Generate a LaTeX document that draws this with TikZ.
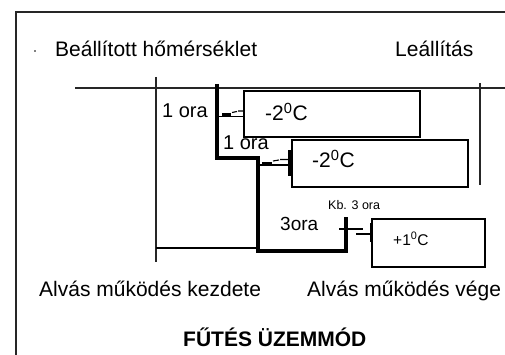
\documentclass[tikz,border=0pt]{standalone}
\usepackage{fontspec}
\setmainfont{Liberation Sans}
\usetikzlibrary{calc}
\begin{document}
\begin{tikzpicture}[x=1pt, y=-1pt, font=\fontsize{21}{25}\selectfont,
        lbl/.style={inner sep=0pt, anchor=base west},
        tbox/.style={draw, line width=1.4pt, fill=white, inner sep=0pt},
        axisline/.style={line width=1.5pt, black!85},
        stair/.style={line width=3.6pt},
        link/.style={line width=1.1pt}]
        \useasboundingbox (0,0) rectangle (505,355);
        % ---- keret ----
        \draw[line width=1.8pt, black!85] (16,355) -- (16,12) -- (505,12);
        \node[circle, fill, inner sep=0.6pt] (pont) at (35,51) {};
        % ---- felső feliratok ----
        \node[lbl] (beall) at (55,57) {Beállított hőmérséklet};
        \node[lbl] (leall) at (395,57) {Leállítás};
        % ---- tengelyek ----
        \draw[axisline] (75,88) -- (505,88);
        \draw[axisline] (156,77) -- (156,262);
        \draw[axisline] (480,83) -- (480,185);
        \draw[link] (156,248) -- (258,248);
        % ---- órák ----
        \node[lbl, font=\fontsize{20}{24}\selectfont] (ora1) at (162,117.5) {1 ora};
        \node[lbl, font=\fontsize{20}{24}\selectfont] (ora2) at (223,150) {1 ora};
        \node[lbl, font=\fontsize{19}{23}\selectfont] (ora3) at (280,230.5) {3ora};
        \node[lbl, font=\fontsize{12.5}{15}\selectfont] (kb) at (328,209.3) {Kb. 3 ora};
        % ---- dobozok ----
        \node[tbox, minimum width=176, minimum height=46] (b1) at (332,114) {};
        \node[tbox, minimum width=176, minimum height=47] (b2) at (380,163.5) {};
        \node[tbox, minimum width=113, minimum height=48] (b3) at (428.5,243) {};
        \node[lbl] (t1) at (265,120.7) {-2\textsuperscript{0}C};
        \node[lbl] (t2) at (312,168) {-2\textsuperscript{0}C};
        \node[lbl, font=\fontsize{15.5}{18}\selectfont] (t3) at (393,245) {+1\textsuperscript{0}C};
        % ---- lépcső ----
        \coordinate (s0) at (217,84);
        \coordinate (s1) at (217,116.5);
        \coordinate (s2) at (258,165);
        \coordinate (s3) at (339,229);
        \draw[stair] (s0) -- (217,158) -- (258,158) -- (258,251) -- (346,251) -- (346,217);
        % ---- kapcsolók ----
        \draw[link] (s1) -- (s1 -| b1.west);
        \draw[stair, line width=2.4pt] ($(s1)+(5,-2)$) -- ++(9,0);
        \draw[link] ($(s1)+(15,-4)$) -- ++(5,-1) ($(s1)+(21,-5.5)$) -- ++(6,0);
        \draw[link] (s2) -- (s2 -| b2.west);
        \draw[stair, line width=2.4pt] ($(s2)+(4,-1.5)$) -- ++(10,0);
        \draw[link] ($(s2)+(15,-4)$) -- ++(6,-1) ($(s2)+(22,-5.5)$) -- ++(8,0);
        \draw[stair, line width=2.6pt] ($(b2.west)+(-2,-13)$) -- ++(0,26);
        \draw[stair, line width=2.6pt] (s3) -- ++(24,0);
        \draw[link] ($(s3)+(17,5)$) -- ++(16,0);
        \draw[link] ($(b3.west)+(-1,-20)$) -- ++(0,19);
        % ---- alsó feliratok ----
        \node[lbl] (kezd) at (39,296) {Alvás működés kezdete};
        \node[lbl] (vege) at (307,296) {Alvás működés vége};
        \node[lbl, font=\fontsize{21}{25}\selectfont\bfseries] (mod) at (183,346) {FŰTÉS ÜZEMMÓD};
    \end{tikzpicture}
\end{document}
